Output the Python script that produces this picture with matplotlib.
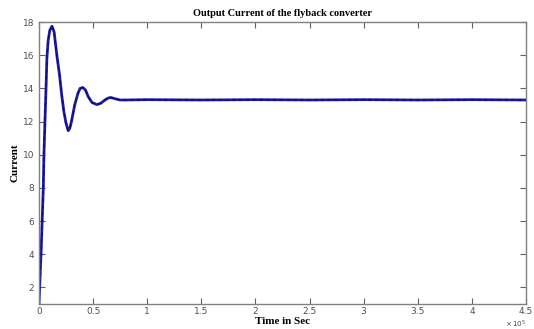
import matplotlib
matplotlib.use("Agg")
import matplotlib.pyplot as plt
import numpy as np

# time (x 10^5 s) and output current
t = [0.0, 0.01, 0.02, 0.03, 0.04, 0.045, 0.055, 0.065, 0.073, 0.085, 0.10, 0.12,
     0.14, 0.165, 0.19, 0.21, 0.23, 0.25, 0.27, 0.285, 0.30, 0.33, 0.36, 0.38,
     0.405, 0.43, 0.455, 0.49, 0.535, 0.57, 0.61, 0.64, 0.665, 0.70, 0.75, 0.80,
     1.0, 1.5, 2.0, 2.5, 3.0, 3.5, 4.0, 4.5]
current = [1.0, 2.6, 4.2, 6.1, 8.0, 9.8, 12.0, 14.0, 15.8, 16.9, 17.5, 17.75,
           17.4, 16.0, 14.8, 13.6, 12.6, 11.9, 11.45, 11.6, 12.0, 13.0, 13.7, 14.0,
           14.05, 13.9, 13.5, 13.15, 13.02, 13.1, 13.3, 13.42, 13.45, 13.38, 13.3, 13.3,
           13.32, 13.3, 13.32, 13.3, 13.32, 13.3, 13.32, 13.3]

xticks = [0, 0.5, 1, 1.5, 2, 2.5, 3, 3.5, 4, 4.5]
yticks = [2, 4, 6, 8, 10, 12, 14, 16, 18]

fig = plt.figure(figsize=(5.34, 3.29), dpi=100)
ax = fig.add_axes([0.073, 0.076, 0.912, 0.857])

ax.plot(t, current, color="#1c1ca8", lw=2.0, solid_joinstyle="round")
ax.plot(t, current, color="#0a0a50", lw=0.7, ls=(0, (4, 3)))

ax.set_xlim(0, 4.5)
ax.set_ylim(1, 18)
ax.set_xticks(xticks)
ax.set_xticklabels(["0", "0.5", "1", "1.5", "2", "2.5", "3", "3.5", "4", "4.5"])
ax.set_yticks(yticks)

for s in ax.spines.values():
    s.set_color("#808080")
    s.set_linewidth(1.0)
ax.tick_params(direction="in", length=4, width=0.8, color="#606060",
               labelsize=6.5, labelcolor="#505050", top=True, right=True)
ax.tick_params(axis="x", pad=2)

serif = ["Liberation Serif", "DejaVu Serif"]
ax.set_title("Output Current of the flyback converter", fontsize=7.5,
             fontweight="bold", family=serif, pad=4)
ax.set_ylabel("Current", fontsize=8, fontweight="bold", family=serif, labelpad=2)
ax.set_xlabel("Time in Sec", fontsize=8, fontweight="bold", family=serif, labelpad=1)
ax.text(1.0, -0.052, r"$\times\,10^{5}$", transform=ax.transAxes, ha="right",
        va="top", fontsize=5.2, color="#505050")

fig.savefig("out.png", dpi=100)
